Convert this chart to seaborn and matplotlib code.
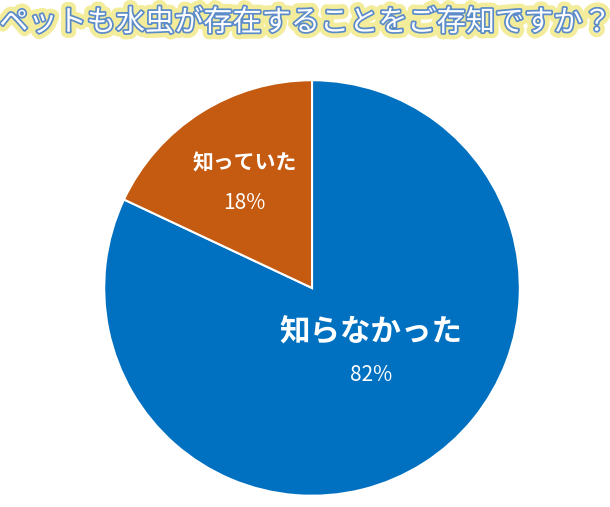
import matplotlib
matplotlib.use("Agg")
import matplotlib.pyplot as plt
import matplotlib.patheffects as pe
import seaborn as sns

sns.set_theme(style="white")
plt.rcParams['font.family'] = ['Noto Sans CJK JP', 'DejaVu Sans']

labels = ["知らなかった", "知っていた"]
values = [82, 18]
colors = ["#0070C0", "#C55A11"]

fig = plt.figure(figsize=(6.1, 5.07), dpi=100)
ax = fig.add_axes([0.164, 0.014, 0.695, 0.836])
ax.pie(values, colors=colors, startangle=90, counterclock=False,
       wedgeprops=dict(edgecolor="white", linewidth=1.5))
ax.set_xlim(-1.02, 1.02); ax.set_ylim(-1.02, 1.02)
ax.set_aspect('auto')

ax.text(0.283, -0.212, labels[0], color="white", fontsize=22, fontweight="bold", ha="center", va="center")
ax.text(0.283, -0.42, f"{values[0]}%", color="white", fontsize=15, ha="center", va="center")
ax.text(-0.325, 0.604, labels[1], color="white", fontsize=15, fontweight="bold", ha="center", va="center")
ax.text(-0.325, 0.41, f"{values[1]}%", color="white", fontsize=15, ha="center", va="center")

fig.text(0.5, 0.955, "ペットも水虫が存在することをご存知ですか？", ha="center", va="center",
         fontsize=21, color="white",
         path_effects=[pe.withStroke(linewidth=9, foreground="#F3EC9A"),
                       pe.withStroke(linewidth=2.5, foreground="#5B8BC9")])
fig.savefig("out.png", dpi=100)
